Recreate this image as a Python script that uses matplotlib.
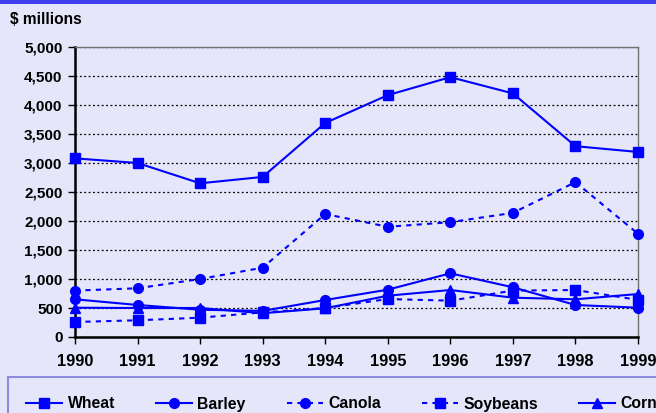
import matplotlib
matplotlib.use("Agg")
import matplotlib.pyplot as plt
from matplotlib.patches import Rectangle
from matplotlib.ticker import FuncFormatter

years = [1990, 1991, 1992, 1993, 1994, 1995, 1996, 1997, 1998, 1999]
wheat = [3080, 3000, 2650, 2760, 3690, 4170, 4480, 4200, 3290, 3190]
barley = [650, 552, 470, 450, 638, 816, 1098, 857, 552, 505]
canola = [800, 840, 1000, 1195, 2120, 1900, 1980, 2140, 2670, 1780]
soybeans = [259, 288, 333, 425, 500, 655, 626, 800, 810, 640]
corn = [505, 500, 500, 410, 495, 712, 810, 678, 650, 741]

plt.rcParams['font.family'] = ['Liberation Sans', 'DejaVu Sans']
plt.rcParams['font.weight'] = 'bold'

BG = '#E6E6FA'
BLUE = '#0000FF'
fig = plt.figure(figsize=(6.56, 4.13), dpi=100, facecolor=BG)
ax = fig.add_axes([75/656, 1-337/413, (638-75)/656, (337-47)/413])
ax.set_facecolor(BG)

dash = (0, (2.5, 2.5))
series = [
    ('Wheat', wheat, '-', 's', 6.5),
    ('Barley', barley, '-', 'o', 7),
    ('Canola', canola, dash, 'o', 7),
    ('Soybeans', soybeans, dash, 's', 6.5),
    ('Corn', corn, '-', '^', 7),
]
handles = []
for name, vals, ls, mk, ms in series:
    h, = ax.plot(years, vals, color=BLUE, linestyle=ls, linewidth=1.5,
                 marker=mk, markersize=ms, markerfacecolor=BLUE,
                 markeredgecolor=BLUE, label=name, clip_on=False, zorder=3)
    handles.append(h)

ax.set_xlim(1990, 1999)
ax.set_ylim(0, 5000)
ax.set_xticks(years)
ax.set_yticks(range(0, 5001, 500))
ax.yaxis.set_major_formatter(FuncFormatter(lambda v, p: f"{int(v):,}"))
ax.yaxis.grid(True, color='black', linestyle=(0, (1.5, 2)), linewidth=0.9)
ax.set_axisbelow(True)
for s in ['left', 'bottom']:
    ax.spines[s].set_color('black')
    ax.spines[s].set_linewidth(1.8)
for s in ['top', 'right']:
    ax.spines[s].set_color('#707070')
    ax.spines[s].set_linewidth(1.0)
ax.tick_params(axis='y', direction='out', length=5, width=1, labelsize=11, pad=4)
ax.tick_params(axis='x', direction='out', length=5, width=1, labelsize=11.8, pad=7)
for lab in ax.get_xticklabels() + ax.get_yticklabels():
    lab.set_fontweight('bold')

# top blue band
fig.patches.append(Rectangle((0, 1-4/413), 1, 4/413, transform=fig.transFigure,
                             facecolor='#4040F0', edgecolor='none'))
# legend box
fig.patches.append(Rectangle((8/656, -0.05), 1, (413-377)/413 + 0.05,
                             transform=fig.transFigure, facecolor='none',
                             edgecolor='#8C8CE0', linewidth=1.5))

fig.text(10/656, 1-19/413, '$ millions', fontsize=11.2, fontweight='bold',
         va='center', ha='left')

leg = fig.legend(handles=handles, loc='center left', ncol=5,
                 bbox_to_anchor=(26/656, 1-404/413), frameon=False,
                 handlelength=2.3, handletextpad=0.35, columnspacing=2.6,
                 borderaxespad=0, borderpad=0,
                 prop={'weight': 'bold', 'size': 11.3})

fig.savefig('out.png', dpi=100, facecolor=BG)
